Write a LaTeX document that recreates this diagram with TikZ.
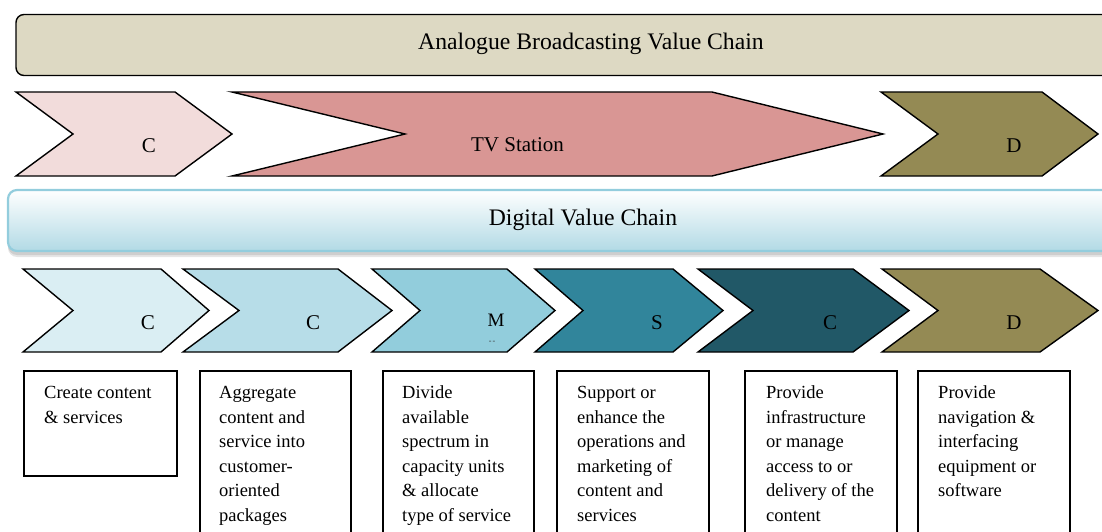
\documentclass[tikz,border=0pt]{standalone}
\usepackage{fontspec}
\setmainfont{Liberation Serif}
\definecolor{bannerA}{HTML}{DDD9C3}
\definecolor{digBorder}{HTML}{93CDDD}
\definecolor{digBottom}{HTML}{B2DAE5}
\definecolor{rowAone}{HTML}{F2DCDB}
\definecolor{rowAtv}{HTML}{D99694}
\definecolor{olive}{HTML}{948A54}
\definecolor{blueA}{HTML}{DAEEF3}
\definecolor{blueB}{HTML}{B7DDE8}
\definecolor{blueC}{HTML}{92CDDC}
\definecolor{blueD}{HTML}{31859B}
\definecolor{blueE}{HTML}{215867}
% x-left, notch x, tip-start x, tip x, y-top, y-bottom, fill
\newcommand{\mychev}[7]{%
  \draw[chevline, fill=#7] (#1,#5) -- (#3,#5) -- (#4,{(#5+#6)/2}) -- (#3,#6) -- (#1,#6) -- (#2,{(#5+#6)/2}) -- cycle;}
\begin{document}
\begin{tikzpicture}[x=1pt,y=-1pt,
  chevline/.style={draw=black, line width=1.4pt, line join=miter},
  lbl/.style={font=\fontsize{21}{24}\selectfont, inner sep=0, anchor=base},
  banner/.style={font=\fontsize{23.7}{28}\selectfont, inner sep=0, anchor=base},
  boxframe/.style={draw=black, line width=1.5pt, fill=white, inner sep=0, anchor=north west},
  boxtext/.style={font=\fontsize{18.5}{24.5}\selectfont, inner sep=0, anchor=north west, align=left}]
\useasboundingbox (0,0) rectangle (1102,532);
\clip (0,0) rectangle (1102,532);
% analogue banner
\draw[fill=bannerA, draw=black, line width=1.4pt, rounded corners=8pt] (16,14.5) rectangle (1140,75.5);
\node[banner] (analogue) at (591,50) {Analogue Broadcasting Value Chain};
% analogue row
\mychev{16}{73}{175}{232}{92}{176}{rowAone}
\draw[chevline, fill=rowAtv] (232,92) -- (712,92) -- (883,134) -- (712,176) -- (232,176) -- (405,134) -- cycle;
\mychev{881}{938}{1042}{1098}{92}{176}{olive}
\node[lbl] (a1) at (149,152) {C};
\node[lbl] (a2) at (517.5,151) {TV Station};
\node[lbl] (a3) at (1014,152) {D};
% digital banner with shadow
\fill[black, opacity=0.10, rounded corners=9pt] (8,195) rectangle (1140,257);
\fill[black, opacity=0.10, rounded corners=9pt] (8,193) rectangle (1140,255);
\shade[top color=white, bottom color=digBottom, rounded corners=9pt] (8,190) rectangle (1140,251);
\draw[draw=digBorder, line width=2.2pt, rounded corners=9pt] (8,190) rectangle (1140,251);
\node[banner] (digital) at (583,225) {Digital Value Chain};
% digital row
\mychev{23}{73}{161}{209}{269}{352}{blueA}
\mychev{183}{239}{338}{392}{269}{352}{blueB}
\mychev{372}{420}{507}{555}{269}{352}{blueC}
\mychev{535}{583}{673}{723}{269}{352}{blueD}
\mychev{698}{753}{853}{909}{269}{352}{blueE}
\mychev{882}{938}{1040}{1098}{269}{352}{olive}
\node[lbl] (d1) at (148,329) {C};
\node[lbl] (d2) at (313,329) {C};
\node[lbl, font=\fontsize{19}{22}\selectfont] (d3) at (496,326) {M};
\node[inner sep=0, anchor=base, font=\fontsize{8}{9}\selectfont, text=black!80] (d3b) at (492,343) {-\kern1pt-};
\node[lbl] (d4) at (657,329) {S};
\node[lbl] (d5) at (830,329) {C};
\node[lbl] (d6) at (1014,329) {D};
% description boxes
\node[boxframe, minimum width=153pt, minimum height=105pt] (b1) at (23,370) {};
\node[boxframe, minimum width=151pt, minimum height=200pt] (b2) at (199,370) {};
\node[boxframe, minimum width=151pt, minimum height=200pt] (b3) at (382,370) {};
\node[boxframe, minimum width=152pt, minimum height=200pt] (b4) at (556,370) {};
\node[boxframe, minimum width=152pt, minimum height=200pt] (b5) at (744,370) {};
\node[boxframe, minimum width=152pt, minimum height=200pt] (b6) at (917,370) {};
\node[boxtext] (t1) at (44,381.3) {\strut Create content\\\& services};
\node[boxtext] (t2) at (219,381.3) {\strut Aggregate\\content and\\service into\\customer-\\oriented\\packages};
\node[boxtext] (t3) at (402,381.3) {\strut Divide\\available\\spectrum in\\capacity units\\\& allocate\\type of service};
\node[boxtext] (t4) at (577,381.3) {\strut Support or\\enhance the\\operations and\\marketing of\\content and\\services};
\node[boxtext] (t5) at (766,381.3) {\strut Provide\\infrastructure\\or manage\\access to or\\delivery of the\\content};
\node[boxtext] (t6) at (938,381.3) {\strut Provide\\navigation \&\\interfacing\\equipment or\\software};
\end{tikzpicture}
\end{document}
